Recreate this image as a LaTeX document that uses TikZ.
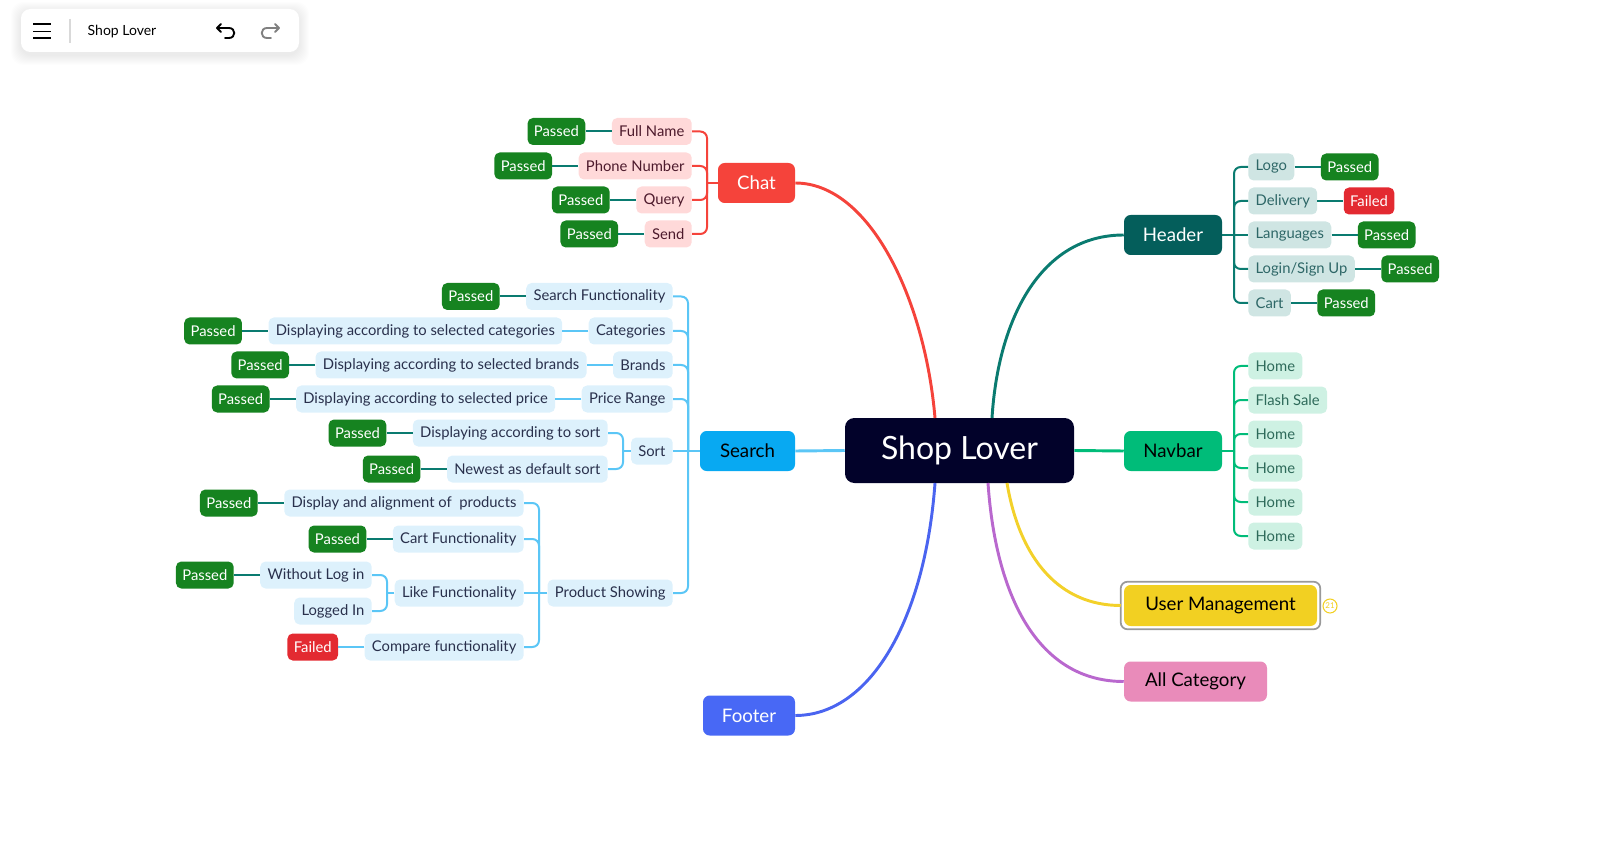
\documentclass[tikz,border=0pt]{standalone}
\usepackage{fontspec}
\setmainfont{Lato}
\usepackage{tikz}
\usetikzlibrary{positioning,calc}
\definecolor{rootInk}{HTML}{02022A}
\definecolor{chatRed}{HTML}{F5433B}
\definecolor{chatLeaf}{HTML}{FFD9D9}
\definecolor{chatText}{HTML}{4D1A2C}
\definecolor{passGreen}{HTML}{168320}
\definecolor{failRed}{HTML}{E32A31}
\definecolor{passTeal}{HTML}{0A7B70}
\definecolor{headTeal}{HTML}{045E5B}
\definecolor{headLeaf}{HTML}{CFE5E3}
\definecolor{headText}{HTML}{2E6767}
\definecolor{navGreen}{HTML}{00BC79}
\definecolor{navLeaf}{HTML}{CEF1E3}
\definecolor{navText}{HTML}{2E6A5A}
\definecolor{searchBlue}{HTML}{08A9F2}
\definecolor{searchLine}{HTML}{5BC6F6}
\definecolor{searchLeaf}{HTML}{DDF1FC}
\definecolor{searchText}{HTML}{29304C}
\definecolor{umYellow}{HTML}{F2D022}
\definecolor{umLine}{HTML}{F3D12A}
\definecolor{catPink}{HTML}{E98BBA}
\definecolor{catLine}{HTML}{B968CE}
\definecolor{footBlue}{HTML}{4868F5}
\definecolor{footLine}{HTML}{4A64F0}

\begin{document}
\begin{tikzpicture}[x=0.75pt,y=-0.75pt,
  leaf/.style={rounded corners=4pt,inner xsep=5.5pt,inner ysep=0pt,minimum height=20.25pt,font=\fontsize{11.1}{12}\selectfont},
  chatleaf/.style={leaf,fill=chatLeaf,text=chatText},
  headleaf/.style={leaf,fill=headLeaf,text=headText},
  navleaf/.style={leaf,fill=navLeaf,text=navText},
  searchleaf/.style={leaf,fill=searchLeaf,text=searchText},
  pass/.style={leaf,fill=passGreen,text=white,inner xsep=4.8pt},
  fail/.style={pass,fill=failRed},
  topic/.style={rounded corners=5pt,minimum height=30pt,inner sep=0pt,font=\fontsize{14}{16}\selectfont},
  link/.style={line width=1.5pt},
  passlink/.style={link,passTeal},
  branch/.style={line width=2.2pt}]
\useasboundingbox (0,0) rectangle (1602,848);

% toolbar
\foreach \s in {1,...,10}
  \fill[black,opacity=0.009,rounded corners=9pt] (21-\s,9-\s+3) rectangle (299+\s,52+\s+3);
\node[fill=white,rounded corners=7pt,minimum width=208.5pt,minimum height=32.25pt] (bar) at (160,30.5) {};
\node[anchor=west,font=\fontsize{10.5}{12}\selectfont] (barTitle) at (83,31.5) {Shop Lover};
\foreach \yy in {24,31.5,38} \draw[line width=1.4pt] (33,\yy) -- (51,\yy);
\draw[black!15,line width=0.8pt] (70,19) -- (70,43);
\draw[line width=1.4pt,line cap=round,line join=round] (221,24) -- (217,28) -- (221,32);
\draw[line width=1.4pt,line cap=round] (217,28) -- (229,28) .. controls (236,28) and (236,38) .. (229,38) -- (225,38);
\draw[black!50,line width=1.4pt,line cap=round,line join=round] (275,24) -- (279,28) -- (275,32);
\draw[black!50,line width=1.4pt,line cap=round] (279,28) -- (267,28) .. controls (260,28) and (260,38) .. (267,38) -- (271,38);

% main topics
\node[fill=rootInk,text=white,rounded corners=7pt,minimum width=171.75pt,minimum height=48.75pt,font=\fontsize{24}{28}\selectfont] (root) at (959.5,450.5) {Shop Lover};
\node[topic,fill=chatRed,text=white,minimum width=57.75pt] (chat) at (756.5,183) {Chat};
\node[topic,fill=headTeal,text=white,minimum width=73.5pt] (header) at (1173,235) {Header};
\node[topic,fill=navGreen,text=black,minimum width=73.5pt] (navbar) at (1173,451) {Navbar};
\node[topic,fill=searchBlue,text=black,minimum width=71.25pt] (search) at (747.5,451) {Search};
\node[topic,fill=footBlue,text=white,minimum width=69pt] (footer) at (749,715.5) {Footer};
\node[topic,fill=umYellow,text=black,minimum width=144.75pt,minimum height=30.75pt] (um) at (1220.5,605.5) {User Management};
\draw[black!40,line width=1.3pt,rounded corners=5pt] ($(um.south west)+(-3,3)$) rectangle ($(um.north east)+(3,-3)$);
\node[circle,draw=umYellow,text=umYellow,line width=0.8pt,inner sep=0pt,minimum size=10.5pt,font=\fontsize{6}{6}\selectfont] (umcount) at (1330,606) {21};
\node[topic,fill=catPink,text=black,minimum width=107.25pt] (allcat) at (1195.5,681.5) {All Category};

\coordinate (rtChat) at (935,418);
\coordinate (rtHead) at (992,418);
\coordinate (rtFoot) at (935,483);
\coordinate (rtCat) at (988,483);
\coordinate (rtUser) at (1007,483);
\draw[branch,chatRed] (rtChat) .. controls (925,300) and (870,183) .. (chat.east);
\draw[branch,passTeal] (rtHead) .. controls (998,320) and (1040,235) .. (header.west);
\draw[branch,footLine] (rtFoot) .. controls (925,620) and (870,715.5) .. (footer.east);
\draw[branch,catLine] (rtCat) .. controls (996,600) and (1040,681.5) .. (allcat.west);
\draw[branch,umLine] (rtUser) .. controls (1020,560) and (1060,605.5) .. ($(um.west)+(-3,0)$);
\draw[branch,navGreen] (root.east) -- (navbar.west);
\draw[branch,searchLine] (root.west) -- (search.east);

% chat
\node[chatleaf,anchor=east] (fullname) at (692,131.5) {Full Name};
\node[chatleaf,anchor=east] (phone) at (692,166) {Phone Number};
\node[chatleaf,anchor=east] (query) at (692,200) {Query};
\node[chatleaf,anchor=east] (send) at (692,234) {Send};
\node[pass,left=19.5pt of fullname] (fullnameP) {Passed};
\node[pass,left=19.5pt of phone] (phoneP) {Passed};
\node[pass,left=19.5pt of query] (queryP) {Passed};
\node[pass,left=19.5pt of send] (sendP) {Passed};
\coordinate (chatj) at (707,183);
\draw[link,chatRed] (chat.west) -- (chatj);
\foreach \n in {fullname,phone,query,send} {
  \draw[link,chatRed,rounded corners=5pt] (chatj) |- (\n.east);
  \draw[passlink] (\n P) -- (\n);
}

% header
\node[headleaf,anchor=west] (logo) at (1248,167) {Logo};
\node[headleaf,anchor=west] (delivery) at (1248,201) {Delivery};
\node[headleaf,anchor=west] (lang) at (1248,235) {Languages};
\node[headleaf,anchor=west] (login) at (1248,269) {Login/Sign Up};
\node[headleaf,anchor=west] (cart) at (1248,303) {Cart};
\node[pass,right=19.5pt of logo] (logoP) {Passed};
\node[fail,right=19.5pt of delivery] (deliveryP) {Failed};
\node[pass,right=19.5pt of lang] (langP) {Passed};
\node[pass,right=19.5pt of login] (loginP) {Passed};
\node[pass,right=19.5pt of cart] (cartP) {Passed};
\coordinate (headj) at (1234,235);
\draw[link,passTeal] (header.east) -- (lang.west);
\foreach \n in {logo,delivery,login,cart}
  \draw[link,passTeal,rounded corners=5pt] (headj) |- (\n.west);
\foreach \n in {logo,delivery,lang,login,cart}
  \draw[passlink] (\n) -- (\n P);

% navbar
\node[navleaf,anchor=west] (home1) at (1248,366) {Home};
\node[navleaf,anchor=west] (flash) at (1248,400) {Flash Sale};
\node[navleaf,anchor=west] (home2) at (1248,434) {Home};
\node[navleaf,anchor=west] (home3) at (1248,468) {Home};
\node[navleaf,anchor=west] (home4) at (1248,502) {Home};
\node[navleaf,anchor=west] (home5) at (1248,536) {Home};
\coordinate (navj) at (1234,451);
\draw[link,navGreen] (navbar.east) -- (navj);
\foreach \n in {home1,flash,home2,home3,home4,home5}
  \draw[link,navGreen,rounded corners=5pt] (navj) |- (\n.west);

% search
\node[searchleaf,anchor=east] (sfunc) at (673,296.5) {Search Functionality};
\node[searchleaf,anchor=east] (categ) at (673,331) {Categories};
\node[searchleaf,anchor=east] (brands) at (673,365) {Brands};
\node[searchleaf,anchor=east] (price) at (673,399) {Price Range};
\node[searchleaf,anchor=east] (sort) at (673,451) {Sort};
\node[searchleaf,anchor=east] (prod) at (673,593) {Product Showing};
\node[pass,left=19.5pt of sfunc] (sfuncP) {Passed};
\node[searchleaf,left=19.5pt of categ] (dcateg) {Displaying according to selected categories};
\node[pass,left=19.5pt of dcateg] (dcategP) {Passed};
\node[searchleaf,left=19.5pt of brands] (dbrands) {Displaying according to selected brands};
\node[pass,left=19.5pt of dbrands] (dbrandsP) {Passed};
\node[searchleaf,left=19.5pt of price] (dprice) {Displaying according to selected price};
\node[pass,left=19.5pt of dprice] (dpriceP) {Passed};
\node[searchleaf,anchor=east] (dsort) at (608,433) {Displaying according to sort};
\node[searchleaf,anchor=east] (newest) at (608,469) {Newest as default sort};
\node[pass,left=19.5pt of dsort] (dsortP) {Passed};
\node[pass,left=19.5pt of newest] (newestP) {Passed};
\node[searchleaf,anchor=east] (dalign) at (524,503) {Display and alignment of\ \ products\ };
\node[searchleaf,anchor=east] (cartf) at (524,539) {Cart Functionality};
\node[searchleaf,anchor=east] (likef) at (524,593) {Like Functionality};
\node[searchleaf,anchor=east] (compare) at (524,647) {Compare functionality};
\node[pass,left=19.5pt of dalign] (dalignP) {Passed};
\node[pass,left=19.5pt of cartf] (cartfP) {Passed};
\node[fail,left=19.5pt of compare] (compareP) {Failed};
\node[searchleaf,anchor=east] (nolog) at (372,575) {Without Log in};
\node[searchleaf,anchor=east] (logged) at (372,611) {Logged In};
\node[pass,left=19.5pt of nolog] (nologP) {Passed};

\coordinate (searchj) at (688,451);
\draw[link,searchLine] (search.west) -- (sort.east);
\foreach \n in {sfunc,categ,brands,price,prod}
  \draw[link,searchLine,rounded corners=5pt] (searchj) |- (\n.east);
\coordinate (sortj) at (623,451);
\foreach \n in {dsort,newest}
  \draw[link,searchLine,rounded corners=5pt] (sortj) |- (\n.east);
\draw[link,searchLine] (sort.west) -- (sortj);
\coordinate (prodj) at (539,593);
\draw[link,searchLine] (prod.west) -- (likef.east);
\foreach \n in {dalign,cartf,compare}
  \draw[link,searchLine,rounded corners=5pt] (prodj) |- (\n.east);
\coordinate (likej) at (387,593);
\draw[link,searchLine] (likef.west) -- (likej);
\foreach \n in {nolog,logged}
  \draw[link,searchLine,rounded corners=5pt] (likej) |- (\n.east);
\draw[link,searchLine] (categ) -- (dcateg);
\draw[link,searchLine] (brands) -- (dbrands);
\draw[link,searchLine] (price) -- (dprice);
\draw[link,searchLine] (compare) -- (compareP);
\foreach \n in {sfunc,dcateg,dbrands,dprice,dsort,newest,dalign,cartf,nolog}
  \draw[passlink] (\n P) -- (\n);
\end{tikzpicture}
\end{document}
